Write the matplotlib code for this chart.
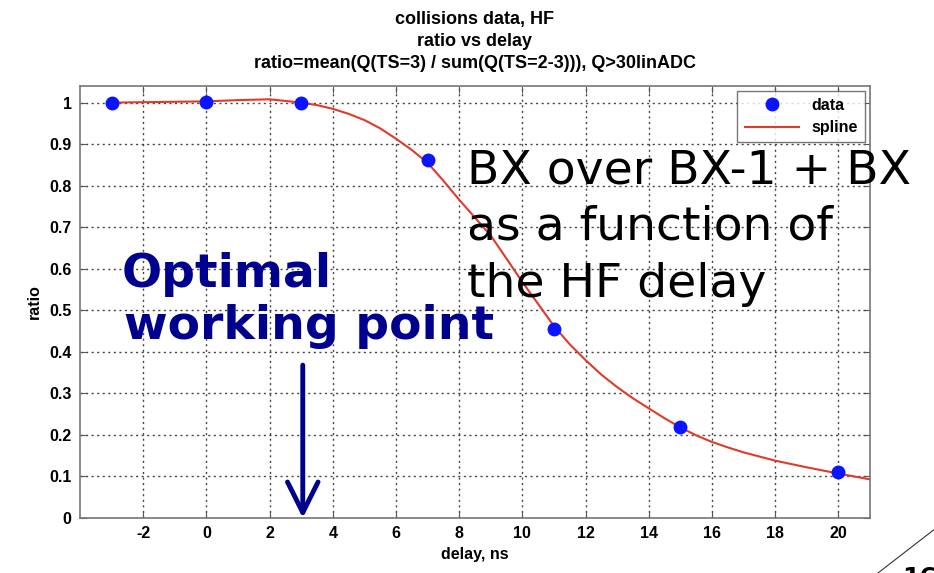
import numpy as np
import matplotlib
matplotlib.use("Agg")
import matplotlib.pyplot as plt

plt.rcParams["axes.unicode_minus"] = False

# measured points
delay = [-3, 0, 3, 7, 11, 15, 20]
ratio = [1.0, 1.002, 1.0, 0.863, 0.455, 0.219, 0.11]

# spline curve
spl_x = [-3, -2, -1, 0, 1, 2, 3, 3.5, 4, 4.5, 5, 5.5, 6, 6.5, 7, 7.5, 8, 9, 10, 11, 11.5,
         12, 12.5, 13, 13.5, 14, 14.5, 15, 15.5, 16, 16.5, 17, 18, 19, 20, 21]
spl_y = [1.0, 1.001, 1.002, 1.003, 1.006, 1.008, 1.0, 0.994, 0.985, 0.973, 0.958, 0.938,
         0.913, 0.886, 0.855, 0.812, 0.766, 0.680, 0.568, 0.462, 0.418, 0.380, 0.345,
         0.315, 0.288, 0.264, 0.240, 0.218, 0.199, 0.183, 0.170, 0.158, 0.138, 0.122,
         0.107, 0.093]

xticks = list(range(-2, 21, 2))
yticks = [round(0.1 * i, 1) for i in range(11)]
ytick_labels = ["0", "0.1", "0.2", "0.3", "0.4", "0.5", "0.6", "0.7", "0.8", "0.9", "1"]

narrow = ["Liberation Sans Narrow", "Liberation Sans", "DejaVu Sans"]
navy = "#00008f"

fig = plt.figure(figsize=(9.34, 5.73), dpi=100)
ax = fig.add_axes([80/934, 1 - 518/573, 790/934, 432/573])

ax.plot(delay, ratio, "o", color="#0a14ff", markersize=9, label="data", zorder=3)
ax.plot(spl_x, spl_y, "-", color="#e03a2c", lw=1.5, label="spline", zorder=2)

ax.set_xlim(-4, 21)
ax.set_ylim(0, 1.04)
ax.set_xticks(xticks)
ax.set_yticks(yticks)
ax.set_yticklabels(ytick_labels)
ax.tick_params(direction="in", top=True, right=True, length=5, color="#555555", pad=6)
for lab in ax.get_xticklabels() + ax.get_yticklabels():
    lab.set_fontfamily(narrow)
    lab.set_fontweight("bold")
    lab.set_fontsize(11.5)
for sp in ax.spines.values():
    sp.set_color("#777777")
    sp.set_linewidth(1.2)
ax.grid(True, color="#444444", linestyle=(0, (1.5, 2.5)), lw=1.0)

ax.set_xlabel("delay, ns", family=narrow, fontweight="bold", fontsize=11.5, labelpad=4)
ax.set_ylabel("ratio", family=narrow, fontweight="bold", fontsize=11.5, labelpad=5)
ax.set_title("collisions data, HF\nratio vs delay\nratio=mean(Q(TS=3) / sum(Q(TS=2-3))), Q>30linADC",
             family=narrow, fontweight="bold", fontsize=13, pad=13, linespacing=1.4)

leg = ax.legend(loc="upper right", prop={"family": narrow, "weight": "bold", "size": 11.5},
                frameon=True, fancybox=False, edgecolor="#555555", borderaxespad=0.3,
                handlelength=3.4, borderpad=0.45, labelspacing=0.45)
leg.get_frame().set_linewidth(1.0)

# slide annotations
fig.text(122/934, 1 - 287/573, "Optimal", color=navy, fontsize=34, fontweight="bold",
         family="DejaVu Sans", va="baseline")
fig.text(124/934, 1 - 339/573, "working point", color=navy, fontsize=34, fontweight="bold",
         family="DejaVu Sans", va="baseline")
ax.annotate("", xy=(3.05, 0.0), xytext=(3.05, 0.368),
            arrowprops=dict(arrowstyle="->,head_length=1.1,head_width=0.55", color=navy, lw=3.5,
                            mutation_scale=20, shrinkA=0, shrinkB=0))

for i, line in enumerate(["BX over BX-1 + BX", "as a function of", "the HF delay"]):
    fig.text(467/934, 1 - (183 + 57 * i)/573, line, color="black", fontsize=34,
             family="DejaVu Sans", va="baseline")

# slide corner
fig.add_artist(plt.Line2D([878/934, 940/934], [0.0, 1 - 525/573], color="#333333", lw=0.8))
fig.text(902/934, 1 - 566/573, "16", fontsize=18, fontweight="bold", va="top")

fig.savefig("out.png", dpi=100)
